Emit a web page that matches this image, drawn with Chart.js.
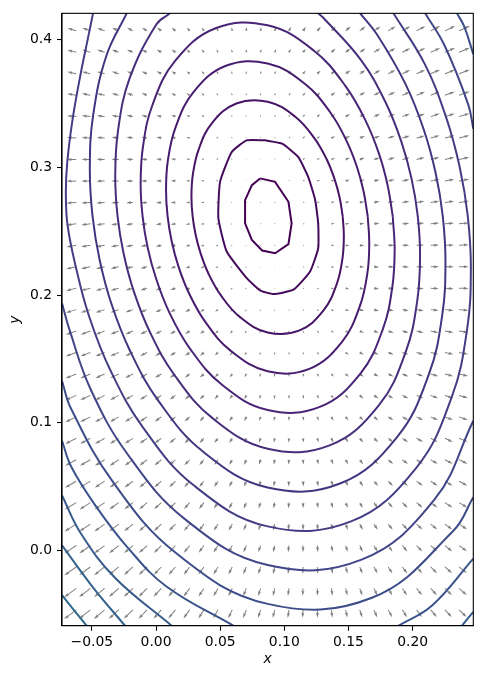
<!DOCTYPE html>
<html>
<head>
<meta charset="utf-8">
<script src="https://cdn.jsdelivr.net/npm/chart.js@4.4.1/dist/chart.umd.min.js"></script>
<style>
  html, body { margin: 0; padding: 0; background: #ffffff; }
  #wrap { width: 483px; height: 679px; }
</style>
</head>
<body>
<div id="wrap"><canvas id="chart" width="483" height="679"></canvas></div>
<script>
// axis ticks
const xTicks = [-0.05, 0.00, 0.05, 0.10, 0.15, 0.20];
const yTicks = [0.0, 0.1, 0.2, 0.3, 0.4];

// contour lines, innermost first, [x, y]
const contour1 = [[0.0811,0.2914],[0.0928,0.2887],[0.1032,0.2731],[0.1057,0.2562],[0.1032,0.2399],[0.0928,0.2328],[0.0827,0.2349],[0.0747,0.2432],[0.0694,0.2562],[0.0694,0.2744],[0.0747,0.2861],[0.0811,0.2914]];
const contour2 = [[0.0850,0.3212],[0.0983,0.3186],[0.1108,0.3082],[0.1186,0.2926],[0.1240,0.2747],[0.1264,0.2559],[0.1264,0.2367],[0.1201,0.2185],[0.1071,0.2042],[0.0915,0.2008],[0.0811,0.2037],[0.0707,0.2133],[0.0551,0.2341],[0.0486,0.2601],[0.0499,0.2887],[0.0590,0.3121],[0.0707,0.3212],[0.0850,0.3212]];
const contour3 = [[0.1455,0.2618],[0.1431,0.2764],[0.1391,0.2910],[0.1330,0.3064],[0.1234,0.3230],[0.1085,0.3397],[0.0870,0.3515],[0.0626,0.3501],[0.0436,0.3347],[0.0332,0.3140],[0.0287,0.2945],[0.0276,0.2773],[0.0285,0.2618],[0.0309,0.2470],[0.0349,0.2322],[0.0410,0.2165],[0.0506,0.1997],[0.0655,0.1827],[0.0870,0.1707],[0.1114,0.1721],[0.1304,0.1878],[0.1409,0.2088],[0.1453,0.2286],[0.1464,0.2461],[0.1455,0.2618]];
const contour4 = [[0.1650,0.2618],[0.1618,0.2812],[0.1565,0.3007],[0.1483,0.3212],[0.1356,0.3434],[0.1157,0.3657],[0.0870,0.3814],[0.0545,0.3796],[0.0292,0.3590],[0.0152,0.3314],[0.0092,0.3053],[0.0078,0.2824],[0.0090,0.2618],[0.0122,0.2421],[0.0175,0.2223],[0.0257,0.2014],[0.0384,0.1790],[0.0583,0.1563],[0.0870,0.1403],[0.1195,0.1422],[0.1448,0.1632],[0.1588,0.1911],[0.1648,0.2176],[0.1662,0.2409],[0.1650,0.2618]];
const contour5 = [[0.1845,0.2618],[0.1805,0.2861],[0.1739,0.3104],[0.1636,0.3361],[0.1477,0.3637],[0.1229,0.3916],[0.0870,0.4113],[0.0464,0.4090],[0.0147,0.3832],[-0.0028,0.3489],[-0.0102,0.3162],[-0.0120,0.2876],[-0.0105,0.2618],[-0.0065,0.2371],[0.0002,0.2124],[0.0104,0.1863],[0.0263,0.1583],[0.0512,0.1299],[0.0870,0.1100],[0.1277,0.1124],[0.1593,0.1385],[0.1768,0.1734],[0.1842,0.2065],[0.1860,0.2356],[0.1845,0.2618]];
const contour6 = [[0.0109,0.4207],[0.0002,0.4120],[-0.0207,0.3695],[-0.0296,0.3291],[-0.0318,0.2937],[-0.0300,0.2618],[-0.0252,0.2322],[-0.0172,0.2025],[-0.0049,0.1713],[0.0142,0.1376],[0.0440,0.1036],[0.0870,0.0796],[0.1358,0.0825],[0.1738,0.1138],[0.1947,0.1557],[0.2036,0.1955],[0.2058,0.2304],[0.2040,0.2618],[0.1992,0.2910],[0.1912,0.3202],[0.1789,0.3510],[0.1598,0.3841],[0.1300,0.4176],[0.1264,0.4207]];
const contour7 = [[-0.0229,0.4207],[-0.0387,0.3875],[-0.0491,0.3403],[-0.0516,0.2990],[-0.0495,0.2618],[-0.0439,0.2273],[-0.0346,0.1926],[-0.0202,0.1562],[0.0020,0.1169],[0.0368,0.0772],[0.0870,0.0492],[0.1439,0.0526],[0.1882,0.0892],[0.2127,0.1380],[0.2231,0.1844],[0.2256,0.2252],[0.2235,0.2618],[0.2179,0.2958],[0.2086,0.3299],[0.1942,0.3658],[0.1720,0.4045],[0.1591,0.4207]];
const contour8 = [[-0.0491,0.4207],[-0.0525,0.4040],[-0.0590,0.3720],[-0.0650,0.3380],[-0.0692,0.3040],[-0.0703,0.2800],[-0.0690,0.2550],[-0.0626,0.2224],[-0.0520,0.1828],[-0.0356,0.1411],[-0.0101,0.0962],[0.0296,0.0508],[0.0870,0.0188],[0.1520,0.0227],[0.2027,0.0645],[0.2306,0.1204],[0.2425,0.1734],[0.2454,0.2200],[0.2430,0.2618],[0.2366,0.3007],[0.2260,0.3396],[0.2096,0.3807],[0.1851,0.4207]];
const contour9a = [[0.2098,0.4207],[0.2249,0.3955],[0.2433,0.3494],[0.2473,0.3303]];
const contour9b = [[-0.0733,0.1935],[-0.0675,0.1729],[-0.0509,0.1260],[-0.0223,0.0755],[0.0225,0.0245],[0.0870,-0.0115],[0.1602,-0.0072],[0.2171,0.0399],[0.2473,0.1015]];
const contour10a = [[0.2346,0.4207],[0.2402,0.4104],[0.2473,0.3888]];
const contour10b = [[-0.0733,0.1327],[-0.0662,0.1109],[-0.0344,0.0548],[0.0153,-0.0019],[0.0870,-0.0419],[0.1683,-0.0371],[0.2316,0.0152],[0.2473,0.0417]];
const contour11a = [[-0.0733,0.0859],[-0.0660,0.0653],[-0.0465,0.0341],[-0.0221,0.0022],[0.0081,-0.0283],[0.0603,-0.0590]];
const contour11b = [[0.1890,-0.0590],[0.2152,-0.0431],[0.2473,-0.0064]];
const contour12a = [[-0.0733,0.0430],[-0.0587,0.0134],[-0.0320,-0.0214],[0.0122,-0.0590]];
const contour12b = [[0.2385,-0.0590],[0.2473,-0.0481]];
const contour13 = [[-0.0733,0.0040],[-0.0495,-0.0285],[-0.0242,-0.0590]];
const contour14 = [[-0.0733,-0.0351],[-0.0640,-0.0468],[-0.0541,-0.0590]];

// quiver grid
const quiverX = [-0.0622,-0.0512,-0.0401,-0.0291,-0.0180,-0.0070,0.0041,0.0151,0.0262,0.0373,0.0483,0.0594,0.0704,0.0815,0.0925,0.1036,0.1146,0.1257,0.1367,0.1478,0.1588,0.1699,0.1810,0.1920,0.2031,0.2141,0.2252,0.2362];
const quiverY = [0.4070,0.3902,0.3734,0.3566,0.3398,0.3230,0.3062,0.2894,0.2726,0.2558,0.2390,0.2222,0.2054,0.1886,0.1718,0.1550,0.1382,0.1214,0.1046,0.0878,0.0710,0.0542,0.0374,0.0206,0.0038,-0.0130,-0.0298,-0.0466];
// arrow components, rows top to bottom
const quiverU = [
[-73,-67,-61,-55,-49,-43,-37,-31,-24,-18,-12,-6,0,6,12,18,24,30,36,42,49,55,61,67,73,79,85,91],
[-74,-68,-62,-56,-50,-44,-38,-32,-25,-19,-13,-7,-1,5,11,17,23,29,35,41,48,54,60,66,72,78,84,90],
[-75,-69,-63,-57,-51,-45,-39,-33,-26,-20,-14,-8,-2,4,10,16,22,28,34,40,47,53,59,65,71,77,83,89],
[-76,-70,-64,-58,-52,-46,-40,-34,-27,-21,-15,-9,-3,3,9,15,21,27,33,39,46,52,58,64,70,76,82,88],
[-77,-71,-65,-59,-53,-47,-41,-35,-28,-22,-16,-10,-4,2,8,14,20,26,32,38,45,51,57,63,69,75,81,87],
[-78,-72,-66,-60,-54,-48,-42,-36,-29,-23,-17,-11,-5,1,7,13,19,25,31,37,44,50,56,62,68,74,80,86],
[-79,-73,-67,-61,-55,-49,-43,-37,-30,-24,-18,-12,-6,0,6,12,18,24,30,36,43,49,55,61,67,73,79,85],
[-80,-74,-68,-62,-56,-50,-44,-38,-31,-25,-19,-13,-7,-1,5,11,17,23,29,35,42,48,54,60,66,72,78,84],
[-81,-75,-69,-63,-57,-51,-45,-39,-32,-26,-20,-14,-8,-2,4,10,16,22,28,34,41,47,53,59,65,71,77,83],
[-82,-76,-70,-64,-58,-52,-46,-40,-33,-27,-21,-15,-9,-3,3,9,15,21,27,33,40,46,52,58,64,70,76,82],
[-83,-77,-71,-65,-59,-53,-47,-41,-34,-28,-22,-16,-10,-4,2,8,14,20,26,32,39,45,51,57,63,69,75,81],
[-84,-78,-72,-66,-60,-54,-48,-42,-35,-29,-23,-17,-11,-5,1,7,13,19,25,31,38,44,50,56,62,68,74,80],
[-85,-79,-73,-67,-61,-55,-49,-43,-36,-30,-24,-18,-12,-6,0,6,12,18,24,30,37,43,49,55,61,67,73,79],
[-86,-80,-74,-68,-62,-56,-50,-44,-37,-31,-25,-19,-13,-7,-1,5,11,17,23,29,36,42,48,54,60,66,72,78],
[-87,-81,-75,-69,-63,-57,-51,-45,-38,-32,-26,-20,-14,-8,-2,4,10,16,22,28,35,41,47,53,59,65,71,77],
[-88,-82,-76,-70,-64,-58,-52,-46,-39,-33,-27,-21,-15,-9,-3,3,9,15,21,27,34,40,46,52,58,64,70,76],
[-89,-83,-77,-71,-65,-59,-53,-47,-40,-34,-28,-22,-16,-10,-4,2,8,14,20,26,33,39,45,51,57,63,69,75],
[-90,-84,-78,-72,-66,-60,-54,-48,-41,-35,-29,-23,-17,-11,-5,1,7,13,19,25,32,38,44,50,56,62,68,74],
[-91,-85,-79,-73,-67,-61,-55,-49,-42,-36,-30,-24,-18,-12,-6,0,6,12,18,24,31,37,43,49,55,61,67,73],
[-92,-86,-80,-74,-68,-62,-56,-50,-43,-37,-31,-25,-19,-13,-7,-1,5,11,17,23,30,36,42,48,54,60,66,72],
[-93,-87,-81,-75,-69,-63,-57,-51,-44,-38,-32,-26,-20,-14,-8,-2,4,10,16,22,29,35,41,47,53,59,65,71],
[-94,-88,-82,-76,-70,-64,-58,-52,-45,-39,-33,-27,-21,-15,-9,-3,3,9,15,21,28,34,40,46,52,58,64,70],
[-96,-90,-84,-78,-72,-66,-60,-54,-47,-41,-35,-29,-23,-17,-11,-5,1,7,13,19,26,32,38,44,50,56,62,68],
[-97,-91,-85,-79,-73,-67,-61,-55,-48,-42,-36,-30,-24,-18,-12,-6,0,6,12,18,25,31,37,43,49,55,61,67],
[-98,-92,-86,-80,-74,-68,-62,-56,-49,-43,-37,-31,-25,-19,-13,-7,-1,5,11,17,24,30,36,42,48,54,60,66],
[-99,-93,-87,-81,-75,-69,-63,-57,-50,-44,-38,-32,-26,-20,-14,-8,-2,4,10,16,23,29,35,41,47,53,59,65],
[-100,-94,-88,-82,-76,-70,-64,-58,-51,-45,-39,-33,-27,-21,-15,-9,-3,3,9,15,22,28,34,40,46,52,58,64],
[-101,-95,-89,-83,-77,-71,-65,-59,-52,-46,-40,-34,-28,-22,-16,-10,-4,2,8,14,21,27,33,39,45,51,57,63]
];
const quiverV = [
[23,24,24,25,26,26,27,28,28,29,30,30,31,32,32,33,34,34,35,36,36,37,38,38,39,40,40,41],
[19,20,20,21,22,22,23,24,24,25,26,26,27,28,28,29,30,30,31,32,32,33,34,34,35,36,36,37],
[16,17,17,18,19,19,20,21,21,22,23,23,24,25,25,26,27,27,28,29,29,30,31,31,32,33,33,34],
[12,13,13,14,15,15,16,17,17,18,19,19,20,21,21,22,23,23,24,25,25,26,27,27,28,29,29,30],
[8,9,9,10,11,11,12,13,13,14,15,15,16,17,17,18,19,19,20,21,21,22,23,23,24,25,25,26],
[4,5,5,6,7,7,8,9,9,10,11,11,12,13,13,14,15,15,16,17,17,18,19,19,20,21,21,22],
[1,2,2,3,4,4,5,6,6,7,8,8,9,10,10,11,12,12,13,14,14,15,16,16,17,18,18,19],
[-3,-2,-2,-1,0,0,1,2,2,3,4,4,5,6,6,7,8,8,9,10,10,11,12,12,13,14,14,15],
[-7,-6,-6,-5,-4,-4,-3,-2,-2,-1,0,0,1,2,2,3,4,4,5,6,6,7,8,8,9,10,10,11],
[-10,-9,-9,-8,-7,-7,-6,-5,-5,-4,-3,-3,-2,-1,-1,0,1,1,2,3,3,4,5,5,6,7,7,8],
[-14,-13,-13,-12,-11,-11,-10,-9,-9,-8,-7,-7,-6,-5,-5,-4,-3,-3,-2,-1,-1,0,1,1,2,3,3,4],
[-18,-17,-17,-16,-15,-15,-14,-13,-13,-12,-11,-11,-10,-9,-9,-8,-7,-7,-6,-5,-5,-4,-3,-3,-2,-1,-1,0],
[-21,-20,-20,-19,-18,-18,-17,-16,-16,-15,-14,-14,-13,-12,-12,-11,-10,-10,-9,-8,-8,-7,-6,-6,-5,-4,-4,-3],
[-25,-24,-24,-23,-22,-22,-21,-20,-20,-19,-18,-18,-17,-16,-16,-15,-14,-14,-13,-12,-12,-11,-10,-10,-9,-8,-8,-7],
[-29,-28,-28,-27,-26,-26,-25,-24,-24,-23,-22,-22,-21,-20,-20,-19,-18,-18,-17,-16,-16,-15,-14,-14,-13,-12,-12,-11],
[-32,-31,-31,-30,-29,-29,-28,-27,-27,-26,-25,-25,-24,-23,-23,-22,-21,-21,-20,-19,-19,-18,-17,-17,-16,-15,-15,-14],
[-36,-35,-35,-34,-33,-33,-32,-31,-31,-30,-29,-29,-28,-27,-27,-26,-25,-25,-24,-23,-23,-22,-21,-21,-20,-19,-19,-18],
[-40,-39,-39,-38,-37,-37,-36,-35,-35,-34,-33,-33,-32,-31,-31,-30,-29,-29,-28,-27,-27,-26,-25,-25,-24,-23,-23,-22],
[-44,-43,-43,-42,-41,-41,-40,-39,-39,-38,-37,-37,-36,-35,-35,-34,-33,-33,-32,-31,-31,-30,-29,-29,-28,-27,-27,-26],
[-47,-46,-46,-45,-44,-44,-43,-42,-42,-41,-40,-40,-39,-38,-38,-37,-36,-36,-35,-34,-34,-33,-32,-32,-31,-30,-30,-29],
[-51,-50,-50,-49,-48,-48,-47,-46,-46,-45,-44,-44,-43,-42,-42,-41,-40,-40,-39,-38,-38,-37,-36,-36,-35,-34,-34,-33],
[-55,-54,-54,-53,-52,-52,-51,-50,-50,-49,-48,-48,-47,-46,-46,-45,-44,-44,-43,-42,-42,-41,-40,-40,-39,-38,-38,-37],
[-58,-57,-57,-56,-55,-55,-54,-53,-53,-52,-51,-51,-50,-49,-49,-48,-47,-47,-46,-45,-45,-44,-43,-43,-42,-41,-41,-40],
[-62,-61,-61,-60,-59,-59,-58,-57,-57,-56,-55,-55,-54,-53,-53,-52,-51,-51,-50,-49,-49,-48,-47,-47,-46,-45,-45,-44],
[-66,-65,-65,-64,-63,-63,-62,-61,-61,-60,-59,-59,-58,-57,-57,-56,-55,-55,-54,-53,-53,-52,-51,-51,-50,-49,-49,-48],
[-69,-68,-68,-67,-66,-66,-65,-64,-64,-63,-62,-62,-61,-60,-60,-59,-58,-58,-57,-56,-56,-55,-54,-54,-53,-52,-52,-51],
[-73,-72,-72,-71,-70,-70,-69,-68,-68,-67,-66,-66,-65,-64,-64,-63,-62,-62,-61,-60,-60,-59,-58,-58,-57,-56,-56,-55],
[-77,-76,-76,-75,-74,-74,-73,-72,-72,-71,-70,-70,-69,-68,-68,-67,-66,-66,-65,-64,-64,-63,-62,-62,-61,-60,-60,-59]
];

const contourSets = [
  [contour1, '#440154', 0], [contour2, '#460a5d', 0.15], [contour3, '#471466', 0.4],
  [contour4, '#481c6e', 0.4], [contour5, '#482576', 0.4], [contour6, '#472e7c', 0.4],
  [contour7, '#453581', 0.4], [contour8, '#433e84', 0.4],
  [contour9a, '#404688', 0.4], [contour9b, '#404688', 0.4],
  [contour10a, '#3d4d8a', 0.4], [contour10b, '#3d4d8a', 0.4],
  [contour11a, '#3a548b', 0.4], [contour11b, '#3a548b', 0.4],
  [contour12a, '#375b8c', 0.4], [contour12b, '#375b8c', 0.4],
  [contour13, '#34628d', 0.4], [contour14, '#30698e', 0.4]
];

const arrowScale = 0.12;   // px per table unit
const shaftWidth = 1.0;
const arrowColor = '#808080';
const fontFamily = "'DejaVu Sans', sans-serif";

function drawArrow(ctx, x0, y0, dx, dy) {
  const len = Math.hypot(dx, dy);
  ctx.save();
  ctx.translate(x0, y0);
  if (len < shaftWidth) {
    ctx.beginPath();
    ctx.arc(0, 0, shaftWidth * 0.5, 0, Math.PI * 2);
    ctx.fill();
    ctx.restore();
    return;
  }
  ctx.rotate(Math.atan2(dy, dx));
  let hl = 5 * shaftWidth, hal = 4.5 * shaftWidth, hw = 3 * shaftWidth, sw = shaftWidth;
  if (len < hl) {
    const k = len / hl;
    hl *= k; hal *= k; hw *= k; sw *= k;
  }
  ctx.beginPath();
  ctx.moveTo(0, -sw / 2);
  ctx.lineTo(len - hal, -sw / 2);
  ctx.lineTo(len - hl, -hw / 2);
  ctx.lineTo(len, 0);
  ctx.lineTo(len - hl, hw / 2);
  ctx.lineTo(len - hal, sw / 2);
  ctx.lineTo(0, sw / 2);
  ctx.closePath();
  ctx.fill();
  ctx.restore();
}

const quiverPlugin = {
  id: 'quiver',
  beforeDatasetsDraw(chart) {
    const {ctx, chartArea: a, scales} = chart;
    ctx.save();
    ctx.beginPath();
    ctx.rect(a.left, a.top, a.right - a.left, a.bottom - a.top);
    ctx.clip();
    ctx.fillStyle = arrowColor;
    quiverY.forEach((yv, j) => {
      quiverX.forEach((xv, i) => {
        const px = scales.x.getPixelForValue(xv);
        const py = scales.y.getPixelForValue(yv);
        drawArrow(ctx, px, py, quiverU[j][i] * arrowScale, -quiverV[j][i] * arrowScale);
      });
    });
    ctx.restore();
  }
};

const framePlugin = {
  id: 'frame',
  afterDraw(chart) {
    const {ctx, chartArea: a} = chart;
    ctx.save();
    ctx.strokeStyle = '#000';
    ctx.lineWidth = 1.1;
    ctx.strokeRect(a.left, a.top, a.right - a.left, a.bottom - a.top);
    ctx.restore();
  }
};

function minusFmt(v, d) {
  const s = Math.abs(v).toFixed(d);
  return v < -1e-9 ? '\u2212' + s : s;
}

const datasets = contourSets.map(([pts, color, tension]) => ({
  data: pts.map(p => ({x: p[0], y: p[1]})),
  showLine: true,
  borderColor: color,
  borderWidth: 2,
  pointRadius: 0,
  tension: tension,
  fill: false,
  clip: 0
}));

new Chart(document.getElementById('chart'), {
  type: 'scatter',
  data: { datasets },
  options: {
    responsive: false,
    animation: false,
    devicePixelRatio: 1,
    layout: { padding: { left: 0, right: 9.7, top: 10.7, bottom: 0 } },
    plugins: { legend: { display: false }, tooltip: { enabled: false } },
    scales: {
      x: {
        type: 'linear', min: -0.0733, max: 0.2473,
        afterBuildTicks: s => { s.ticks = xTicks.map(v => ({ value: v })); },
        afterFit: s => { s.height = 53.3; },
        ticks: { callback: v => minusFmt(v, 2), color: '#000', font: { family: fontFamily, size: 13.9 }, padding: 3, maxRotation: 0, autoSkip: false },
        grid: { display: true, drawOnChartArea: false, drawTicks: true, tickLength: 5, tickWidth: 1.1, tickColor: '#000' },
        border: { display: true, color: '#000', width: 1.1 },
        title: { display: true, text: 'x', color: '#000', font: { family: fontFamily, size: 13.9, style: 'italic' }, padding: { top: 0, bottom: 11.6 } }
      },
      y: {
        type: 'linear', min: -0.059, max: 0.4207,
        afterBuildTicks: s => { s.ticks = yTicks.map(v => ({ value: v })); },
        afterFit: s => { s.width = 62; },
        ticks: { callback: v => minusFmt(v, 1), color: '#000', font: { family: fontFamily, size: 13.9 }, padding: 5, autoSkip: false },
        grid: { display: true, drawOnChartArea: false, drawTicks: true, tickLength: 5, tickWidth: 1.1, tickColor: '#000' },
        border: { display: true, color: '#000', width: 1.1 },
        title: { display: true, text: 'y', color: '#000', font: { family: fontFamily, size: 13.9, style: 'italic' }, padding: { top: 7, bottom: 0 } }
      }
    }
  },
  plugins: [quiverPlugin, framePlugin]
});
</script>
</body>
</html>
